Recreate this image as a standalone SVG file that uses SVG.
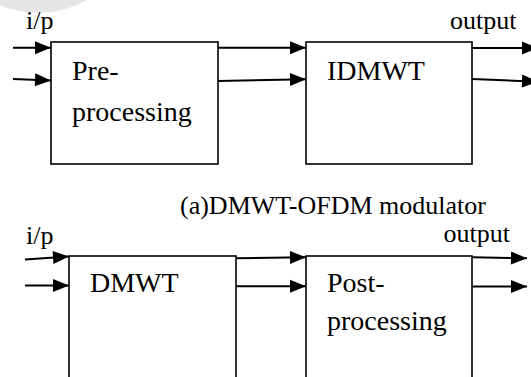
<svg xmlns="http://www.w3.org/2000/svg" width="531" height="377" viewBox="0 0 531 377">
  <style>
    .box { fill: #ffffff; stroke: #000000; stroke-width: 1.6; }
    .wire { fill: none; stroke: #000000; stroke-width: 2; marker-end: url(#head); }
    .lbl { font-family: "Liberation Serif", "Times New Roman", serif; font-size: 28px; fill: #000000; }
    .small { font-family: "Liberation Serif", "Times New Roman", serif; font-size: 26px; fill: #000000; }
  </style>
  <defs>
    <marker id="head" markerUnits="userSpaceOnUse" markerWidth="18" markerHeight="14" refX="16" refY="7" orient="auto" overflow="visible">
      <path d="M0,0.5 L16,7 L0,13.5 Z" fill="#000000"/>
    </marker>
  </defs>
  <rect width="531" height="377" fill="#ffffff"/>
  <!-- faint disc in the top-left corner -->
  <circle cx="38" cy="-85" r="98" fill="#e6e6e6"/>

  <!-- upper chain: modulator -->
  <g id="preprocessing">
    <rect class="box" x="51" y="42" width="167" height="122"/>
    <text class="lbl" x="72" y="80">Pre-</text>
    <text class="lbl" x="72" y="121">processing</text>
  </g>
  <g id="idmwt">
    <rect class="box" x="306" y="42" width="166" height="122"/>
    <text class="lbl" x="327" y="80">IDMWT</text>
  </g>

  <!-- lower chain: demodulator -->
  <g id="dmwt">
    <rect class="box" x="69" y="256" width="167" height="130"/>
    <text class="lbl" x="90" y="292">DMWT</text>
  </g>
  <g id="postprocessing">
    <rect class="box" x="306" y="256" width="166" height="130"/>
    <text class="lbl" x="327" y="292">Post-</text>
    <text class="lbl" x="327" y="330">processing</text>
  </g>

  <g id="connectors">
    <line class="wire" x1="13" y1="47.7" x2="51" y2="47.7"/>
    <line class="wire" x1="13" y1="79" x2="51" y2="80.5"/>
    <line class="wire" x1="218" y1="47.7" x2="306" y2="47.7"/>
    <line class="wire" x1="218" y1="81" x2="306" y2="79.3"/>
    <line class="wire" x1="472" y1="48" x2="538" y2="48"/>
    <line class="wire" x1="472" y1="79" x2="538" y2="81.7"/>

    <line class="wire" x1="25" y1="259.5" x2="69" y2="256.5"/>
    <line class="wire" x1="25" y1="285.5" x2="69" y2="285.5"/>
    <line class="wire" x1="236" y1="258.3" x2="306" y2="257.3"/>
    <line class="wire" x1="236" y1="286.3" x2="306" y2="286.3"/>
    <line class="wire" x1="472" y1="257.3" x2="527" y2="258.3"/>
    <line class="wire" x1="472" y1="286.5" x2="527" y2="286.5"/>
  </g>

  <g id="labels">
    <text class="small" x="26" y="29">i/p</text>
    <text class="small" x="450" y="28.5">output</text>
    <text class="small" x="180" y="213.5" font-size="26.6">(a)DMWT-OFDM modulator</text>
    <text class="small" x="26" y="243.5">i/p</text>
    <text class="small" x="443.5" y="241.5">output</text>
  </g>
</svg>
